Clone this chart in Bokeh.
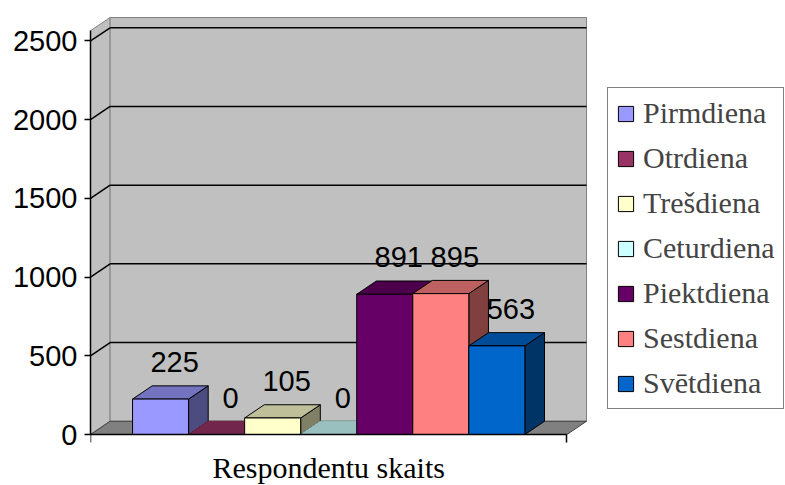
from bokeh.plotting import figure
from bokeh.models import Range1d, FixedTicker, Legend, LegendItem, Label, ColumnDataSource
from bokeh.embed import file_html
from bokeh.resources import INLINE
from bokeh.core.properties import value

# ---- data ----
days = ["Pirmdiena", "Otrdiena", "Trešdiena", "Ceturdiena", "Piektdiena", "Sestdiena", "Svētdiena"]
counts = [225, 0, 105, 0, 891, 895, 563]
colors = ["#9999FF", "#993366", "#FFFFCC", "#CCFFFF", "#660066", "#FF8080", "#0066CC"]
y_ticks = [0, 500, 1000, 1500, 2000, 2500]
category = "Respondentu skaits"

# ---- layout constants (3-D look) ----
GAP = 0.75            # half of the 150% gap width, in bar widths
n = len(days)
span = n + 2 * GAP    # width of the category on the floor
DX, DY = 0.35, 84     # depth offset (x in bar widths, y in value units)
WALL_TOP = 2565
LABEL_PAD = 150
SERIF = "'Liberation Serif', 'Times New Roman', serif"
SANS = "'Liberation Sans', Arial, sans-serif"


def shade(hexc, f):
    h = hexc.lstrip("#")
    r, g, b = (int(h[i:i + 2], 16) for i in (0, 2, 4))
    return "#%02x%02x%02x" % (round(r * f), round(g * f), round(b * f))


p = figure(width=785, height=485, x_range=Range1d(0, 12.4), y_range=Range1d(-324, 2700),
           output_backend="svg", toolbar_location=None,
           min_border_left=90, min_border_right=0, min_border_top=9, min_border_bottom=0)
p.outline_line_color = None
p.background_fill_color = "white"
p.border_fill_color = "white"
p.xgrid.visible = False
p.ygrid.visible = False

# walls and floor
p.patch([0, 0, DX, DX], [0, WALL_TOP, WALL_TOP + DY, DY],
        fill_color="#C0C0C0", line_color="#808080", line_width=1)
p.patch([DX, span + DX, span + DX, DX], [DY, DY, WALL_TOP + DY, WALL_TOP + DY],
        fill_color="#C0C0C0", line_color="#808080", line_width=1)
p.patch([0, span, span + DX, DX], [0, 0, DY, DY],
        fill_color="#808080", line_color="#404040", line_width=1)

# gridlines on the back wall and side wall
gt = y_ticks[1:]
p.segment(x0=[DX] * len(gt), y0=[t + DY for t in gt], x1=[span + DX] * len(gt), y1=[t + DY for t in gt],
          line_color="black", line_width=1.5)
p.segment(x0=[0] * len(gt), y0=gt, x1=[DX] * len(gt), y1=[t + DY for t in gt],
          line_color="black", line_width=1.5)

# bars
lefts = [GAP + i for i in range(n)]
rights = [GAP + i + 1 for i in range(n)]
outline = ["black" if v > 0 else shade(c, 0.75) for v, c in zip(counts, colors)]

right_src = ColumnDataSource(dict(
    xs=[[r, r + DX, r + DX, r] for r in rights],
    ys=[[0, DY, v + DY, v] for v in counts],
    fill=[shade(c, 0.5) for c in colors], line=outline))
top_src = ColumnDataSource(dict(
    xs=[[l, r, r + DX, l + DX] for l, r in zip(lefts, rights)],
    ys=[[v, v, v + DY, v + DY] for v in counts],
    fill=[shade(c, 0.75) for c in colors], line=outline))
front_src = ColumnDataSource(dict(left=lefts, right=rights, top=counts, bottom=[0] * n,
                                  fill=colors, name=days))

p.patches("xs", "ys", source=right_src, fill_color="fill", line_color="line", line_width=1)
p.patches("xs", "ys", source=top_src, fill_color="fill", line_color="line", line_width=1)
front = p.quad(left="left", right="right", top="top", bottom="bottom", source=front_src,
               fill_color="fill", line_color="black", line_width=1)

# data labels
lab_src = ColumnDataSource(dict(
    x=[(l + r) / 2 + 0.25 for l, r in zip(lefts, rights)],
    y=[v + DY + LABEL_PAD for v in counts],
    t=[str(v) for v in counts]))
p.text(x="x", y="y", text="t", source=lab_src, text_align="center", text_baseline="alphabetic",
       text_font=value(SANS), text_font_size=value("29px"), text_color="black")

# axes
ya = p.yaxis[0]
ya.ticker = FixedTicker(ticks=y_ticks)
ya.bounds = (0, WALL_TOP)
ya.major_tick_out = 6
ya.major_tick_in = 0
ya.minor_tick_out = 0
ya.minor_tick_in = 0
ya.axis_line_width = 1.5
ya.major_tick_line_width = 1.5
ya.major_label_text_font = SANS
ya.major_label_text_font_size = "29px"
ya.major_label_text_color = "black"
ya.major_label_standoff = 7

xa = p.xaxis[0]
xa.fixed_location = 0
xa.ticker = FixedTicker(ticks=[0, span])
xa.bounds = (0, span)
xa.major_tick_out = 8
xa.major_tick_in = 0
xa.minor_tick_out = 0
xa.minor_tick_in = 0
xa.axis_line_width = 1.5
xa.major_tick_line_width = 1.5
xa.major_label_overrides = {0: " ", span: " "}
xa.major_label_text_font_size = "1px"

p.add_layout(Label(x=span / 2, y=18, x_units="data", y_units="screen", text=category,
                   text_font=SERIF, text_font_size="30px",
                   text_align="center", text_baseline="alphabetic", text_color="black"))

legend = Legend(items=[LegendItem(label=d, renderers=[front], index=i) for i, d in enumerate(days)],
                location=(517, 76), label_text_font=SERIF, label_text_font_size="30px",
                glyph_width=19, glyph_height=19, label_standoff=8, spacing=11, padding=8, margin=0,
                border_line_color="black", border_line_width=1.5,
                background_fill_color="white", background_fill_alpha=1.0)
p.add_layout(legend)

open("out.html", "w").write(file_html(p, INLINE))
